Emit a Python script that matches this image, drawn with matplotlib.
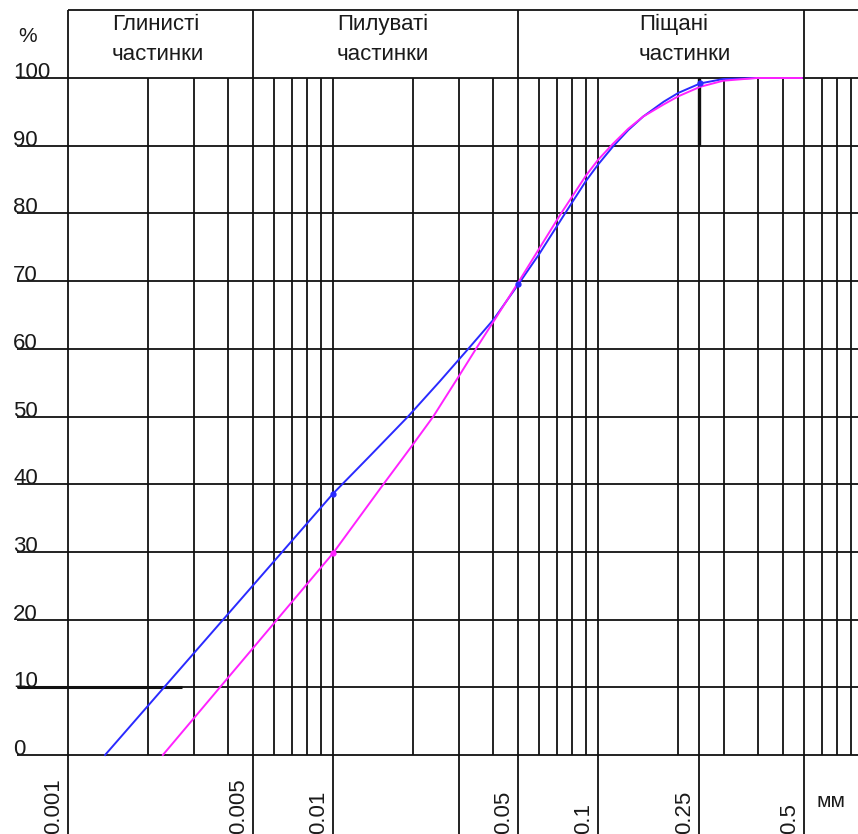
import matplotlib.pyplot as plt
import matplotlib.transforms as mtransforms

plt.rcParams['font.family'] = ['Liberation Sans', 'DejaVu Sans']

# grain size (mm) vs cumulative percentage, two samples
blue_d = [0.00138, 0.0100, 0.0138, 0.0192, 0.0253, 0.0324, 0.0403, 0.0500,
          0.0600, 0.0751, 0.0901, 0.100, 0.114, 0.130, 0.148, 0.177, 0.201,
          0.243, 0.297, 0.397, 0.587]
blue_p = [0, 38.6, 44.2, 50, 55.2, 60, 64.3, 69.5,
          74.0, 80.0, 84.8, 87.2, 89.9, 92.3, 94.3, 96.5, 97.8,
          99.2, 99.85, 100, 100]

pink_d = [0.00228, 0.0100, 0.0155, 0.0198, 0.0239, 0.0299, 0.0349, 0.0403,
          0.0500, 0.0600, 0.0720, 0.0901, 0.100, 0.114, 0.130, 0.148, 0.177,
          0.201, 0.243, 0.297, 0.397, 0.587]
pink_p = [0, 29.8, 40, 45.6, 50, 56.0, 60.2, 64.0,
          69.8, 74.8, 79.8, 85.6, 87.9, 90.3, 92.5, 94.3, 96.1,
          97.3, 98.7, 99.6, 100, 100]

blue_marks_d = [0.0100, 0.0500, 0.243]
blue_marks_p = [38.6, 69.5, 99.2]
pink_marks_d = [0.0100]
pink_marks_p = [29.8]

# log paper grid
grid_x = [m * 10.0 ** e for e in (-3, -2, -1) for m in range(1, 10)] + [0.24]
grid_y = list(range(0, 101, 10))

# labelled sizes (long lines) and their texts
tick_x = [0.001, 0.005, 0.01, 0.03, 0.05, 0.1, 0.24, 0.6]
tick_text = ['0.001', '0.005', '0.01', '', '0.05', '0.1', '0.25', '0.5']

# fraction boundaries and names
bounds = [0.001, 0.005, 0.05, 0.6]
fractions = ['Глинисті\nчастинки', 'Пилуваті\nчастинки', 'Піщані\nчастинки']
fraction_left_px = [112, 337, 639]

W, H = 858, 834
fig = plt.figure(figsize=(W / 100, H / 100), dpi=100)
ax = fig.add_axes([17 / W, 79 / H, (W - 17) / W, 677 / H])
ax.set_xscale('log')
ax.set_xlim(10 ** (-3 + (17 - 68) / 265), 10 ** (-3 + (W - 68) / 265))
ax.set_ylim(0, 100)
ax.axis('off')

lc = '#111111'
lw = 1.3
ax.hlines(grid_y, *ax.get_xlim(), color=lc, lw=lw, clip_on=False)
ax.vlines(grid_x, 0, 100, color=lc, lw=lw, clip_on=False)
ax.vlines(tick_x, -11.6, 0, color=lc, lw=lw, clip_on=False)
# a few heavier strokes
ax.hlines(10, ax.get_xlim()[0], 0.0027, color=lc, lw=2.2)
ax.vlines(0.24, 90, 100, color=lc, lw=2.4)

# header box
top = 110.1
ax.vlines(bounds, 100, top, color=lc, lw=lw, clip_on=False)
ax.hlines(top, 0.001, ax.get_xlim()[1], color=lc, lw=lw, clip_on=False)
for name, xl in zip(fractions, fraction_left_px):
    fig.text(xl / W, 1 - 14 / H, name, ha='left', va='top', fontsize=16,
             linespacing=1.55, color='#1a1a1a')

# curves
ax.plot(blue_d, blue_p, color='#2a2aff', lw=1.4, clip_on=False)
ax.plot(pink_d, pink_p, color='#ff22ff', lw=1.4, clip_on=False)
ax.plot(blue_marks_d, blue_marks_p, 'o', color='#2a2aff', ms=3.5, clip_on=False)
ax.plot(pink_marks_d, pink_marks_p, 'o', color='#ff22ff', ms=3.5, clip_on=False)

# y labels sit on their lines
ytr = mtransforms.blended_transform_factory(fig.transFigure, ax.transData)
for v in grid_y:
    ax.text(13 / W, v, str(v), transform=ytr, ha='left', va='baseline',
            fontsize=16, color='#1a1a1a')
fig.text(18 / W, 1 - 42 / H, '%', ha='left', va='baseline', fontsize=15, color='#1a1a1a')

# x labels, rotated, to the left of their lines
xtr = mtransforms.offset_copy(ax.transData, fig=fig, x=-4, y=0, units='dots')
for xv, t in zip(tick_x, tick_text):
    if t:
        ax.text(xv, -11.6, t, transform=xtr, rotation=90, ha='right', va='bottom',
                fontsize=16, color='#1a1a1a', clip_on=False)
fig.text(817 / W, 1 - 807 / H, 'мм', ha='left', va='baseline', fontsize=15, color='#1a1a1a')

fig.savefig('out.png', dpi=100, facecolor='white')
